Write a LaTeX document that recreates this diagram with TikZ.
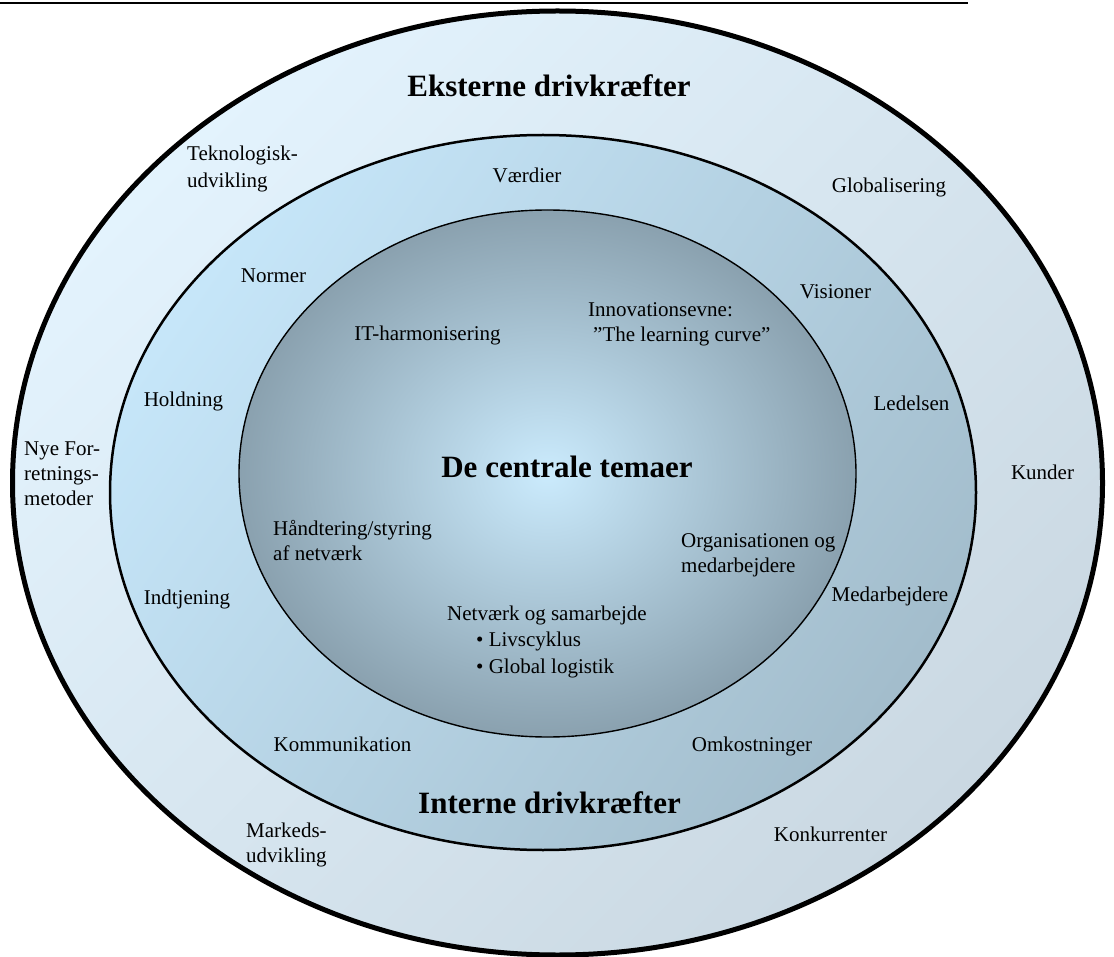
\documentclass[tikz,border=0pt]{standalone}
\usepackage{fontspec}
\setmainfont{Liberation Serif}
\definecolor{outerA}{HTML}{E3F3FD}
\definecolor{outerB}{HTML}{CAD8E2}
\definecolor{midA}{HTML}{C6E6F9}
\definecolor{midB}{HTML}{A3BDCC}
\definecolor{innA}{HTML}{CBEBFD}
\definecolor{innB}{HTML}{8AA1AF}
\begin{document}
\begin{tikzpicture}[x=1pt,y=-1pt,
  lbl/.style={inner sep=0pt, font=\fontsize{21}{25}\selectfont},
  blk/.style={lbl, align=left},
  blkwide/.style={inner sep=0pt, align=left, font=\fontsize{21}{26.5}\selectfont},
  head/.style={inner sep=0pt, font=\fontsize{31}{36}\selectfont\bfseries}]
\useasboundingbox (0,0) rectangle (1114,957);
\fill[white] (0,0) rectangle (1114,957);
% top rule
\coordinate (ruleL) at (0,3);
\coordinate (ruleR) at (968,3);
\draw[line width=2.5pt] (ruleL) -- (ruleR);
% rings
\shadedraw[top color=outerA, bottom color=outerB, shading angle=45, line width=5pt]
  (557.5,483) ellipse [x radius=545pt, y radius=472pt];
\shadedraw[top color=midA, bottom color=midB, shading angle=55, line width=2.5pt]
  (543,492.5) ellipse [x radius=433pt, y radius=357.5pt];
\shadedraw[inner color=innA, outer color=innB, line width=1.4pt]
  (547.5,473.5) ellipse [x radius=308.5pt, y radius=263.5pt];
% headings
\node[head, anchor=base] (ext) at (549,97) {Eksterne drivkræfter};
\node[head, anchor=base] (cen) at (567,477) {De centrale temaer};
\node[head, anchor=base] (int) at (549.5,813) {Interne drivkræfter};
% outer ring labels
\node[blkwide, anchor=west] (tek) at (187,168.5) {\strut Teknologisk-\\\strut udvikling};
\node[lbl, anchor=base] (glob) at (889,193) {Globalisering};
\node[blk, anchor=west] (nye) at (24,475) {\strut Nye For-\\\strut retnings-\\\strut metoder};
\node[lbl, anchor=base] (kund) at (1042.5,479) {Kunder};
\node[blk, anchor=west] (mark) at (246,844.5) {\strut Markeds-\\\strut udvikling};
\node[lbl, anchor=base] (konk) at (830.5,841) {Konkurrenter};
% middle ring labels
\node[lbl, anchor=base] (vaer) at (527,183) {Værdier};
\node[lbl, anchor=base] (norm) at (273.5,283) {Normer};
\node[lbl, anchor=base] (vis) at (835.5,299) {Visioner};
\node[lbl, anchor=base] (hold) at (183.5,407) {Holdning};
\node[lbl, anchor=base] (led) at (911.5,411) {Ledelsen};
\node[lbl, anchor=base] (medarb) at (890,601) {Medarbejdere};
\node[lbl, anchor=base] (indt) at (187,604) {Indtjening};
\node[lbl, anchor=base] (komm) at (342.5,751) {Kommunikation};
\node[lbl, anchor=base] (omk) at (752,751) {Omkostninger};
% inner labels
\node[blk, anchor=west] (innov) at (588,324.5) {\strut Innovationsevne:\\\strut\hspace{5pt}”The learning curve”};
\node[lbl, anchor=base] (ith) at (427.5,341) {IT-harmonisering};
\node[blk, anchor=west] (haand) at (273,542.5) {\strut Håndtering/styring\\\strut af netværk};
\node[blk, anchor=west] (org) at (681,554.5) {\strut Organisationen og\\\strut medarbejdere};
\node[blkwide, anchor=west] (netv) at (447,641.5) {\strut Netværk og samarbejde\\\strut\hspace{29pt}• Livscyklus\\\strut\hspace{29pt}• Global logistik};
\end{tikzpicture}
\end{document}
